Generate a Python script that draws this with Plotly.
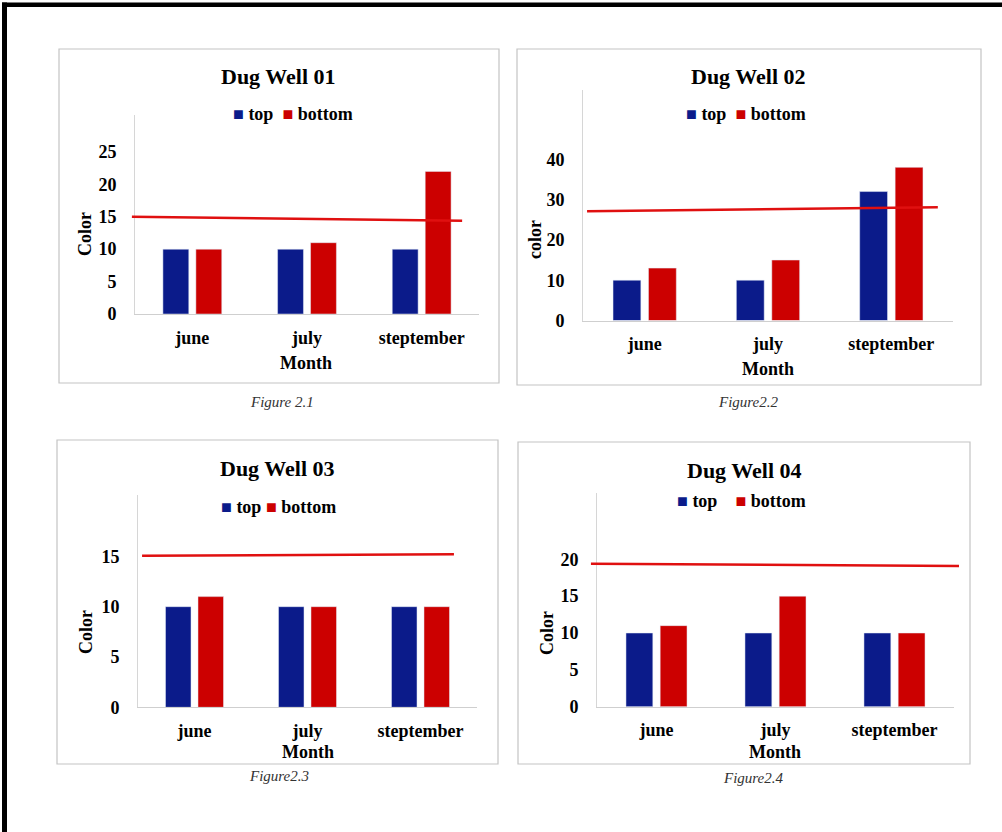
import plotly.graph_objects as go

# ---- data -------------------------------------------------------------
months = ["june", "july", "steptember"]
series_names = ["top", "bottom"]
well_titles = ["Dug Well 01", "Dug Well 02", "Dug Well 03", "Dug Well 04"]
captions = ["Figure 2.1", "Figure2.2", "Figure2.3", "Figure2.4"]
y_titles = ["Color", "color", "Color", "Color"]
x_title = "Month"

top_w1 = [10, 10, 10]
bottom_w1 = [10, 11, 22]
top_w2 = [10, 10, 32]
bottom_w2 = [13, 15, 38]
top_w3 = [10, 10, 10]
bottom_w3 = [11, 10, 10]
top_w4 = [10, 10, 10]
bottom_w4 = [11, 15, 10]

# reference line drawn across each chart: value at its left end, value at its right end
limit_w1 = [15.0, 14.4]
limit_w2 = [27.1, 28.1]
limit_w3 = [15.05, 15.2]
limit_w4 = [19.4, 19.1]

ticks_w1 = [0, 5, 10, 15, 20, 25]
ticks_w2 = [0, 10, 20, 30, 40]
ticks_w3 = [0, 5, 10, 15]
ticks_w4 = [0, 5, 10, 15, 20]

# ---- page geometry (pixels) -------------------------------------------
W, H = 1002, 832
H_LAYOUT = 822          # vertical extent used for converting pixel positions
BLUE = "#0b1b8a"
RED = "#cc0000"
LIMIT_RED = "#e01010"
SERIF = "Liberation Serif"


def px(x):
    return x / W


def py(y):
    return 1 - y / H_LAYOUT


panels = [
    dict(top=top_w1, bottom=bottom_w1, limit=limit_w1, ticks=ticks_w1,
         plot=(135, 479, 115, 314), ymax=30.7, frame=(59, 499, 49, 383),
         title=(278, 77), legend=(293, 114), ytitle=(85, 234), xtitle=(306, 363),
         caption=(282, 402), limit_x=(-0.009, 0.951), gap=2),
    dict(top=top_w2, bottom=bottom_w2, limit=limit_w2, ticks=ticks_w2,
         plot=(583, 953, 90, 320.5), ymax=57.2, frame=(517, 981, 49, 385),
         title=(748, 77), legend=(746, 114), ytitle=(535, 240), xtitle=(768, 369),
         caption=(748, 402), limit_x=(0.011, 0.959), gap=2),
    dict(top=top_w3, bottom=bottom_w3, limit=limit_w3, ticks=ticks_w3,
         plot=(138, 477, 495, 707.3), ymax=21.1, frame=(57, 498, 440, 764),
         title=(277, 468), legend=(278, 507), ytitle=(86, 632), xtitle=(308, 752),
         caption=(279, 776), limit_x=(0.012, 0.932), gap=1),
    dict(top=top_w4, bottom=bottom_w4, limit=limit_w4, ticks=ticks_w4,
         plot=(597, 954, 493, 706.7), ymax=29.0, frame=(518, 970, 442, 764),
         title=(744, 470), legend=(741, 501), ytitle=(547, 633), xtitle=(775, 752),
         caption=(753, 778), limit_x=(-0.017, 1.014), gap=4),
]

fig = go.Figure()
shapes = []
annotations = []

bold_tick_font = dict(family=SERIF, size=18, color="#000000", weight="bold")
bold_text_font = dict(family=SERIF, size=18, color="#000000", weight="bold")

for i, p in enumerate(panels, start=1):
    xa = "x" if i == 1 else f"x{i}"
    ya = "y" if i == 1 else f"y{i}"
    x0, x1, y0, y1 = p["plot"]

    fig.add_trace(go.Bar(x=months, y=p["top"], name=series_names[0],
                         marker_color=BLUE, xaxis=xa, yaxis=ya, showlegend=False))
    fig.add_trace(go.Bar(x=months, y=p["bottom"], name=series_names[1],
                         marker_color=RED, xaxis=xa, yaxis=ya, showlegend=False))

    fig.layout[f"xaxis{'' if i == 1 else i}"] = dict(
        domain=[px(x0), px(x1)], anchor=ya, type="category",
        showline=True, linecolor="#cfcfcf", linewidth=1,
        showgrid=False, zeroline=False, ticks="",
        tickfont=bold_tick_font, ticklabelstandoff=7, fixedrange=True,
    )
    fig.layout[f"yaxis{'' if i == 1 else i}"] = dict(
        domain=[py(y1), py(y0)], anchor=xa, range=[0, p["ymax"]],
        tickmode="array", tickvals=p["ticks"],
        showline=True, linecolor="#d6d6d6", linewidth=1,
        showgrid=False, zeroline=False, ticks="",
        tickfont=bold_tick_font, ticklabelstandoff=14, fixedrange=True,
    )

    # reference line across the chart
    shapes.append(dict(type="line", xref=f"{xa} domain", yref=ya,
                       x0=p["limit_x"][0], x1=p["limit_x"][1],
                       y0=p["limit"][0], y1=p["limit"][1],
                       line=dict(color=LIMIT_RED, width=2.5), layer="above"))

    # chart frame
    fx0, fx1, fy0, fy1 = p["frame"]
    shapes.append(dict(type="rect", xref="paper", yref="paper",
                       x0=px(fx0), x1=px(fx1), y0=py(fy1), y1=py(fy0),
                       line=dict(color="#c4c4c4", width=1.2), layer="below"))

    # title
    annotations.append(dict(text=well_titles[i - 1], xref="paper", yref="paper",
                            x=px(p["title"][0]), y=py(p["title"][1]),
                            xanchor="center", yanchor="middle", showarrow=False,
                            font=dict(family=SERIF, size=22, color="#000000", weight="bold")))
    # legend row: coloured square + series name
    sep = "&nbsp;" * p["gap"]
    legend_text = (f"<span style='color:{BLUE}'>■</span> {series_names[0]}{sep}"
                   f"<span style='color:{RED}'>■</span> {series_names[1]}")
    annotations.append(dict(text=legend_text, xref="paper", yref="paper",
                            x=px(p["legend"][0]), y=py(p["legend"][1]),
                            xanchor="center", yanchor="middle", showarrow=False,
                            font=bold_text_font))
    # axis titles
    annotations.append(dict(text=y_titles[i - 1], xref="paper", yref="paper",
                            x=px(p["ytitle"][0]), y=py(p["ytitle"][1]), textangle=-90,
                            xanchor="center", yanchor="middle", showarrow=False,
                            font=bold_text_font))
    annotations.append(dict(text=x_title, xref="paper", yref="paper",
                            x=px(p["xtitle"][0]), y=py(p["xtitle"][1]),
                            xanchor="center", yanchor="middle", showarrow=False,
                            font=bold_text_font))
    # caption under the frame
    annotations.append(dict(text=f"<i>{captions[i - 1]}</i>", xref="paper", yref="paper",
                            x=px(p["caption"][0]), y=py(p["caption"][1]),
                            xanchor="center", yanchor="middle", showarrow=False,
                            font=dict(family=SERIF, size=15, color="#333333")))

# page border: heavy rule along the top and left edges
shapes.append(dict(type="rect", xref="paper", yref="paper",
                   x0=px(2), x1=1, y0=py(7), y1=py(2.5),
                   fillcolor="#000000", line=dict(width=0), layer="above"))
shapes.append(dict(type="rect", xref="paper", yref="paper",
                   x0=px(2), x1=px(7), y0=py(H), y1=py(2.5),
                   fillcolor="#000000", line=dict(width=0), layer="above"))

fig.update_layout(
    width=W, height=H,
    margin=dict(l=0, r=0, t=0, b=0),
    paper_bgcolor="#ffffff", plot_bgcolor="#ffffff",
    barmode="group", bargap=0.425, bargroupgap=0.215,
    shapes=shapes, annotations=annotations,
    showlegend=False,
)

fig.write_html("out.html", config={"displayModeBar": False})
